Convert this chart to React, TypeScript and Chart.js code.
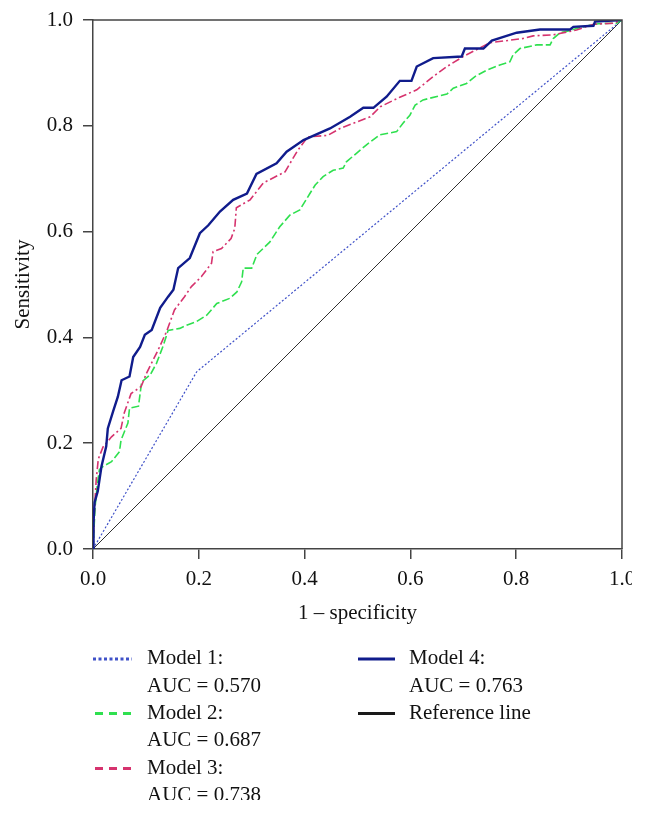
import React, { useEffect, useRef } from "react";
import { Chart, registerables } from "chart.js";

Chart.register(...registerables);

const FONT = "'Liberation Serif', 'DejaVu Serif', serif";

// Axis ticks
const tickValues = [0, 0.2, 0.4, 0.6, 0.8, 1.0];

// Model 1 (dotted blue)
const fpr1 = [0, 0.196, 1];
const tpr1 = [0, 0.335, 1];

// Model 2 (green dashed)
const fpr2 = [0, 0.002, 0.004, 0.008, 0.012, 0.019, 0.035, 0.050, 0.053, 0.066, 0.069, 0.086, 0.092, 0.108, 0.120, 0.133, 0.142, 0.164, 0.177, 0.196, 0.215, 0.234, 0.259, 0.272, 0.281, 0.284, 0.300, 0.310, 0.334, 0.353, 0.372, 0.391, 0.410, 0.420, 0.435, 0.454, 0.473, 0.479, 0.498, 0.517, 0.542, 0.574, 0.586, 0.599, 0.609, 0.624, 0.669, 0.681, 0.706, 0.722, 0.744, 0.769, 0.788, 0.794, 0.807, 0.839, 0.864, 0.870, 0.883, 0.902, 0.914, 0.943, 0.955, 0.990, 1];
const tpr2 = [0, 0.04, 0.08, 0.12, 0.15, 0.156, 0.165, 0.184, 0.206, 0.238, 0.266, 0.270, 0.316, 0.329, 0.351, 0.385, 0.413, 0.417, 0.423, 0.430, 0.442, 0.464, 0.474, 0.486, 0.505, 0.531, 0.531, 0.557, 0.580, 0.609, 0.631, 0.641, 0.672, 0.688, 0.704, 0.716, 0.720, 0.732, 0.748, 0.764, 0.783, 0.789, 0.805, 0.820, 0.839, 0.849, 0.860, 0.871, 0.880, 0.893, 0.905, 0.915, 0.921, 0.934, 0.946, 0.953, 0.953, 0.965, 0.976, 0.980, 0.984, 0.991, 0.993, 0.994, 1];

// Model 3 (crimson dashed)
const fpr3 = [0, 0.002, 0.006, 0.010, 0.019, 0.035, 0.053, 0.059, 0.072, 0.091, 0.101, 0.123, 0.139, 0.154, 0.173, 0.186, 0.205, 0.224, 0.227, 0.243, 0.261, 0.268, 0.271, 0.297, 0.322, 0.363, 0.386, 0.406, 0.444, 0.467, 0.498, 0.524, 0.543, 0.580, 0.612, 0.643, 0.669, 0.700, 0.750, 0.813, 0.832, 0.870, 0.914, 0.946, 0.984, 1];
const tpr3 = [0, 0.06, 0.13, 0.17, 0.193, 0.212, 0.228, 0.257, 0.294, 0.307, 0.332, 0.376, 0.411, 0.452, 0.477, 0.496, 0.515, 0.540, 0.562, 0.568, 0.587, 0.606, 0.645, 0.660, 0.692, 0.713, 0.752, 0.779, 0.782, 0.795, 0.807, 0.817, 0.836, 0.854, 0.868, 0.893, 0.912, 0.931, 0.957, 0.965, 0.970, 0.972, 0.981, 0.992, 0.994, 1];

// Model 4 (navy solid)
const fpr4 = [0, 0.001, 0.003, 0.009, 0.016, 0.025, 0.028, 0.038, 0.047, 0.054, 0.069, 0.076, 0.089, 0.098, 0.111, 0.127, 0.142, 0.152, 0.161, 0.183, 0.202, 0.218, 0.240, 0.265, 0.291, 0.309, 0.347, 0.366, 0.398, 0.448, 0.486, 0.511, 0.530, 0.555, 0.580, 0.602, 0.612, 0.643, 0.697, 0.703, 0.738, 0.754, 0.801, 0.845, 0.902, 0.908, 0.946, 0.949, 1];
const tpr4 = [0, 0.05, 0.088, 0.109, 0.156, 0.194, 0.228, 0.260, 0.288, 0.319, 0.326, 0.363, 0.382, 0.405, 0.414, 0.456, 0.477, 0.490, 0.531, 0.550, 0.597, 0.612, 0.638, 0.660, 0.672, 0.709, 0.729, 0.751, 0.773, 0.795, 0.817, 0.834, 0.834, 0.855, 0.885, 0.885, 0.912, 0.928, 0.931, 0.946, 0.946, 0.961, 0.976, 0.982, 0.982, 0.987, 0.989, 0.997, 1];

// Reference line
const fprRef = [0, 1];
const tprRef = [0, 1];

// Legend text
const legendCol1 = ["Model 1:", "AUC = 0.570", "Model 2:", "AUC = 0.687", "Model 3:", "AUC = 0.738"];
const legendCol2 = ["Model 4:", "AUC = 0.763", "Reference line"];

const COLORS = {
  m1: "#3f51c8",
  m2: "#2fe04f",
  m3: "#d6336e",
  m4: "#101c8c",
  ref: "#1a1a1a",
};

const toPoints = (xs: number[], ys: number[]) => xs.map((x, i) => ({ x, y: ys[i] }));

const framePlugin = {
  id: "frame",
  afterDatasetsDraw(chart: any) {
    const { ctx, chartArea } = chart;
    const { left, top, right, bottom } = chartArea;
    ctx.save();
    ctx.strokeStyle = "#444";
    ctx.lineWidth = 1.5;
    ctx.beginPath();
    ctx.moveTo(left, top);
    ctx.lineTo(right, top);
    ctx.lineTo(right, bottom);
    ctx.stroke();
    ctx.restore();
  },
};

export default function App() {
  const ref = useRef<HTMLCanvasElement | null>(null);

  useEffect(() => {
    if (!ref.current) return;
    const mkTicks = (s: any) => {
      s.ticks = tickValues.map((v) => ({ value: v }));
    };
    const chart = new Chart(ref.current, {
      type: "line",
      data: {
        datasets: [
          {
            label: "Model 4",
            data: toPoints(fpr4, tpr4),
            borderColor: COLORS.m4,
            borderWidth: 2.4,
            pointRadius: 0,
            fill: false,
            tension: 0,
          },
          {
            label: "Model 3",
            data: toPoints(fpr3, tpr3),
            borderColor: COLORS.m3,
            borderWidth: 1.6,
            borderDash: [8, 3, 2, 3],
            pointRadius: 0,
            fill: false,
            tension: 0,
          },
          {
            label: "Model 2",
            data: toPoints(fpr2, tpr2),
            borderColor: COLORS.m2,
            borderWidth: 1.6,
            borderDash: [8, 3],
            pointRadius: 0,
            fill: false,
            tension: 0,
          },
          {
            label: "Model 1",
            data: toPoints(fpr1, tpr1),
            borderColor: COLORS.m1,
            borderWidth: 1.2,
            borderDash: [2, 2],
            pointRadius: 0,
            fill: false,
            tension: 0,
          },
          {
            label: "Reference line",
            data: toPoints(fprRef, tprRef),
            borderColor: COLORS.ref,
            borderWidth: 0.9,
            pointRadius: 0,
            fill: false,
            tension: 0,
          },
        ],
      },
      options: {
        animation: false,
        responsive: false,
        devicePixelRatio: 1,
        layout: { padding: 0 },
        plugins: {
          legend: { display: false },
          tooltip: { enabled: false },
        },
        scales: {
          x: {
            type: "linear",
            min: 0,
            max: 1,
            afterBuildTicks: mkTicks,
            afterFit: (s: any) => {
              s.height = 81;
              s.paddingRight = 10;
            },
            ticks: {
              callback: (v: any) => Number(v).toFixed(1),
              font: { family: FONT, size: 21 },
              color: "#111",
              padding: 8,
              maxRotation: 0,
              autoSkip: false,
            },
            grid: { drawOnChartArea: false, drawTicks: true, tickLength: 10, color: "#444", lineWidth: 1.5 },
            border: { color: "#444", width: 1.5 },
            title: {
              display: true,
              text: "1 – specificity",
              font: { family: FONT, size: 21 },
              color: "#111",
              padding: { top: 0, bottom: 4 },
            },
          },
          y: {
            type: "linear",
            min: 0,
            max: 1,
            afterBuildTicks: mkTicks,
            afterFit: (s: any) => {
              s.width = 93;
              s.paddingTop = 20;
              s.paddingBottom = 0;
            },
            ticks: {
              callback: (v: any) => Number(v).toFixed(1),
              font: { family: FONT, size: 21 },
              color: "#111",
              padding: 10,
              autoSkip: false,
            },
            grid: { drawOnChartArea: false, drawTicks: true, tickLength: 10, color: "#444", lineWidth: 1.5 },
            border: { color: "#444", width: 1.5 },
            title: {
              display: true,
              text: "Sensitivity",
              font: { family: FONT, size: 21 },
              color: "#111",
              padding: { top: 11, bottom: 0 },
            },
          },
        },
      },
      plugins: [framePlugin],
    });
    return () => chart.destroy();
  }, []);

  const baselines = [665, 692.3, 719.6, 747, 774.3, 801.6];
  const textStyle = (left: number, baseline: number): React.CSSProperties => ({
    position: "absolute",
    left,
    top: baseline - 17.6,
    fontFamily: FONT,
    fontSize: 21,
    lineHeight: "21px",
    color: "#111",
    whiteSpace: "nowrap",
  });

  const sample = (x1: number, x2: number, y: number, color: string, dash?: string) => (
    <line x1={x1} x2={x2} y1={y} y2={y} stroke={color} strokeWidth={3} strokeDasharray={dash} />
  );

  return (
    <div
      style={{
        position: "absolute",
        left: 0,
        top: 0,
        width: 647,
        height: 800,
        overflow: "hidden",
        background: "#fff",
      }}
    >
      <canvas ref={ref} width={632} height={630} style={{ position: "absolute", left: 0, top: 0 }} />
      <svg width={647} height={800} style={{ position: "absolute", left: 0, top: 0 }}>
        {sample(93, 132, 659, COLORS.m1, "3 2.5")}
        {sample(95, 131, 713.5, COLORS.m2, "8 6")}
        {sample(95, 131, 768.5, COLORS.m3, "8 6")}
        {sample(358, 395, 659, COLORS.m4)}
        {sample(358, 395, 713.5, COLORS.ref)}
      </svg>
      {legendCol1.map((t, i) => (
        <div key={"c1" + i} style={textStyle(147, baselines[i])}>
          {t}
        </div>
      ))}
      {legendCol2.map((t, i) => (
        <div key={"c2" + i} style={textStyle(409, baselines[i])}>
          {t}
        </div>
      ))}
    </div>
  );
}
